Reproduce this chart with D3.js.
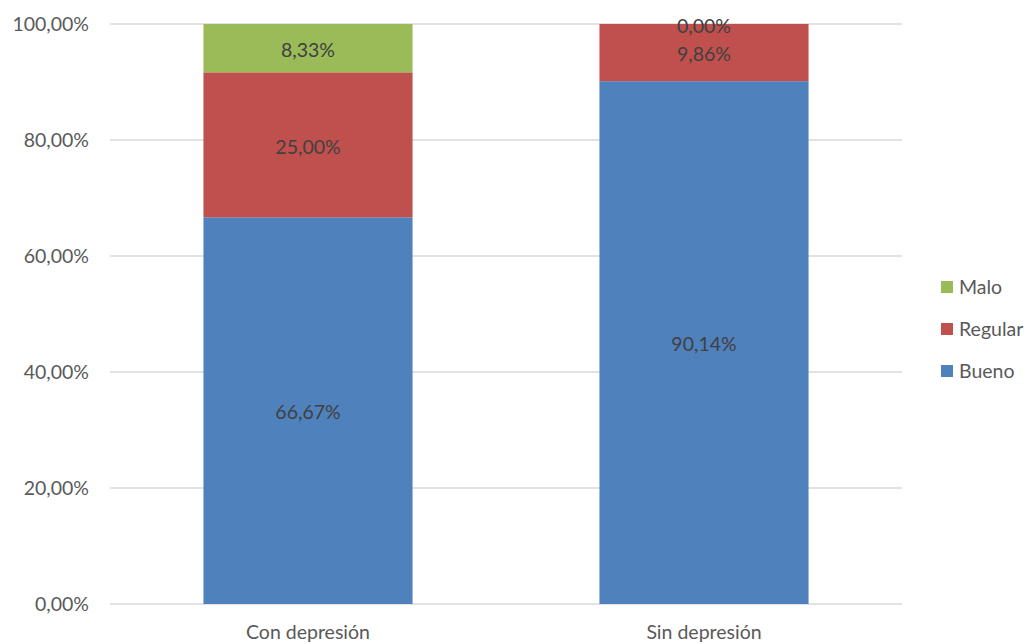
<!DOCTYPE html>
<html>
<head>
<meta charset="utf-8">
<script src="https://cdn.jsdelivr.net/npm/d3@7"></script>
<style>
  body { margin: 0; background: #fff; }
  svg text { font-family: Lato, "Open Sans", sans-serif; }
</style>
</head>
<body>
<svg id="chart" width="1031" height="643"></svg>
<script>
// Stacked 100% bars: self-rated state by depression group
const categories = ["Con depresión", "Sin depresión"];
const seriesNames = ["Bueno", "Regular", "Malo"];
const bueno   = [66.67, 90.14];
const regular = [25.00, 9.86];
const malo    = [8.33, 0.00];
const yTicks  = [0, 20, 40, 60, 80, 100];
const colors  = ["#4F81BD", "#C0504D", "#9BBB59"];

const fmt = v => v.toFixed(2).replace(".", ",") + "%";

const svg = d3.select("#chart");
const margin = { left: 110, right: 129, top: 24, bottom: 39 };
const W = 1031, H = 643;
const fontSize = "19.5px";

const x = d3.scaleBand().domain(categories).range([margin.left, W - margin.right]);
const y = d3.scaleLinear().domain([0, 100]).range([H - margin.bottom, margin.top]);
const barW = x.bandwidth() * 0.528;

// gridlines
svg.append("g").selectAll("line").data(yTicks).join("line")
  .attr("x1", margin.left).attr("x2", W - margin.right)
  .attr("y1", d => y(d)).attr("y2", d => y(d))
  .attr("stroke", "#d9d9d9").attr("stroke-width", 1.3);

// y-axis labels
const yAxis = d3.axisLeft(y).tickValues(yTicks).tickFormat(fmt).tickSize(0).tickPadding(21);
const yg = svg.append("g").attr("transform", `translate(${margin.left},0)`).call(yAxis);
yg.select(".domain").remove();
yg.selectAll("text").attr("fill", "#595959").style("font-size", fontSize);

// x-axis labels
const xAxis = d3.axisBottom(x).tickSize(0).tickPadding(21);
const xg = svg.append("g").attr("transform", `translate(0,${H - margin.bottom})`).call(xAxis);
xg.select(".domain").remove();
xg.selectAll("text").attr("fill", "#595959").style("font-size", fontSize);

// stack
const rows = categories.map((c, i) => ({ cat: c, Bueno: bueno[i], Regular: regular[i], Malo: malo[i] }));
const stacked = d3.stack().keys(seriesNames)(rows);

const layers = svg.append("g").selectAll("g").data(stacked).join("g")
  .attr("fill", (d, i) => colors[i]);

layers.selectAll("rect").data(d => d).join("rect")
  .attr("x", d => x(d.data.cat) + (x.bandwidth() - barW) / 2)
  .attr("width", barW)
  .attr("y", d => y(d[1]))
  .attr("height", d => y(d[0]) - y(d[1]));

// value labels
const labels = svg.append("g");
stacked.forEach(layer => {
  layer.forEach(d => {
    const v = d[1] - d[0];
    labels.append("text")
      .attr("x", x(d.data.cat) + x.bandwidth() / 2)
      .attr("y", y((d[0] + d[1]) / 2))
      .attr("dy", "0.45em")
      .attr("text-anchor", "middle")
      .attr("fill", "#404040")
      .style("font-size", fontSize)
      .text(fmt(v));
  });
});

// legend (top to bottom: Malo, Regular, Bueno)
const legendItems = seriesNames.map((n, i) => ({ n, c: colors[i] })).reverse();
const lg = svg.append("g").attr("transform", "translate(941,287)");
const li = lg.selectAll("g").data(legendItems).join("g")
  .attr("transform", (d, i) => `translate(0,${i * 42})`);
li.append("rect").attr("x", 0).attr("y", -6).attr("width", 12).attr("height", 12).attr("fill", d => d.c);
li.append("text").attr("x", 18).attr("dy", "0.38em").attr("fill", "#595959")
  .style("font-size", fontSize).text(d => d.n);
</script>
</body>
</html>
